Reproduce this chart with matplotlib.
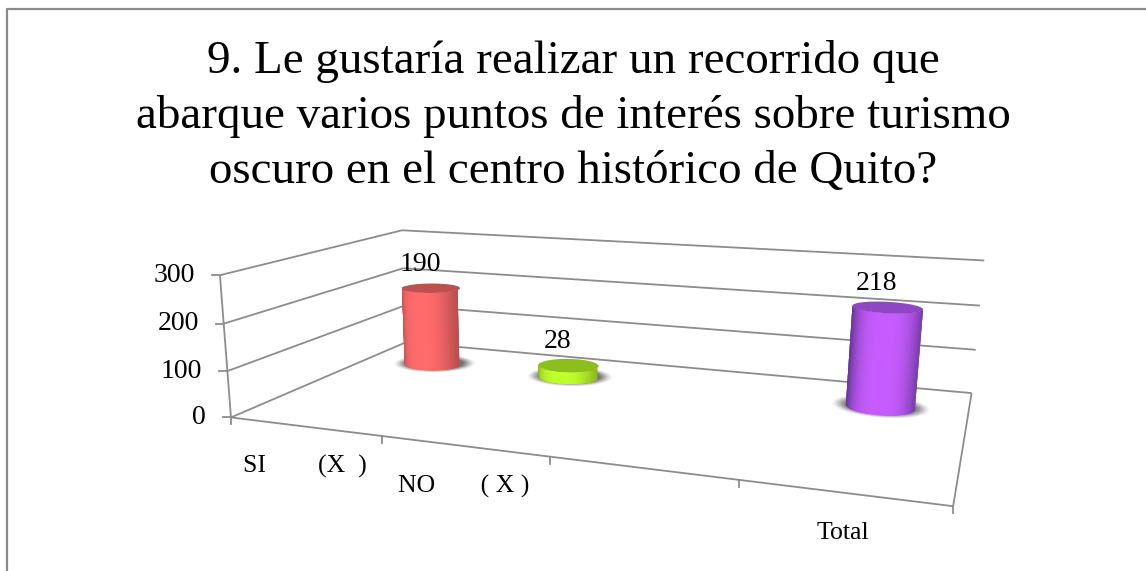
import numpy as np
import matplotlib
matplotlib.use('Agg')
import matplotlib.pyplot as plt

title_lines = ["9. Le gustaría realizar un recorrido que",
               "abarque varios puntos de interés sobre turismo",
               "oscuro en el centro histórico de Quito?"]
categories = ["SI        (X  )", "NO       ( X )", "", "Total"]
values = [190, 28, None, 218]
y_ticks = [0, 100, 200, 300]
y_max = 300

light_colors = ["#FF6B6B", "#BFFF2A", None, "#C65CFF"]
dark_colors = ["#B24A4A", "#86B01E", None, "#6A389A"]
top_colors = ["#C0504D", "#8DBF1C", None, "#8E46C2"]
grid_color = "#8C8C8C"

# box corners on screen: (u along categories, v into depth, w up) -> pixel
box_corners = [((0, 0, 0), (232, 417)), ((1, 0, 0), (953, 507)),
               ((1, 1, 0), (972, 392)), ((0, 1, 0), (405, 343)),
               ((0, 0, 1), (219, 275)), ((1, 1, 1), (984, 261)),
               ((0, 1, 1), (403, 230))]
bar_depth = 0.75
radius_u = 0.05
radius_v = 0.085


def fit_projection(corners):
    rows, rhs = [], []
    for (u, v, w), (x, y) in corners:
        rows.append([u, v, w, 1, 0, 0, 0, 0, -x * u, -x * v, -x * w])
        rhs.append(x)
        rows.append([0, 0, 0, 0, u, v, w, 1, -y * u, -y * v, -y * w])
        rhs.append(y)
    return np.linalg.lstsq(np.array(rows, float), np.array(rhs, float), rcond=None)[0]


params = fit_projection(box_corners)


def project(u, v, w):
    u, v, w = np.asarray(u, float), np.asarray(v, float), np.asarray(w, float)
    a, b, p, c, d, e, q, f, g, h, i = params
    den = g * u + h * v + i * w + 1
    return (a * u + b * v + p * w + c) / den, (d * u + e * v + q * w + f) / den


def mix(c1, c2, t):
    c1 = np.array(matplotlib.colors.to_rgb(c1))
    c2 = np.array(matplotlib.colors.to_rgb(c2))
    return tuple(c1 + (c2 - c1) * t)


plt.rcParams['font.family'] = ['Liberation Serif', 'DejaVu Serif']

fig = plt.figure(figsize=(11.46, 5.71), dpi=100)
ax = fig.add_axes([0, 0, 1, 1])
ax.set_xlim(0, 1146)
ax.set_ylim(571, 0)
ax.axis('off')

# chart border, cut off at the right and bottom of the picture
ax.plot([1146, 6.5, 6.5], [8.5, 8.5, 571], color="#8A8A8A", lw=1.6)

for i, line in enumerate(title_lines):
    ax.text(573, 73 + i * 55, line, ha='center', va='baseline', fontsize=33.8, color='black')


def edge(p0, p1, lw=1.3):
    x, y = project(*np.array([p0, p1]).T)
    ax.plot(x, y, color=grid_color, lw=lw, solid_capstyle='butt', zorder=2)


# gridlines on side and back walls
for tick in y_ticks:
    w = tick / y_max
    edge((0, 0, w), (0, 1, w))
    edge((0, 1, w), (1, 1, w))
    x, y = project(0, 0, w)
    ax.plot([x - 8, x], [y, y], color=grid_color, lw=1.3, zorder=2)
    ax.text(x - 25, y, str(tick), ha='right', va='center', fontsize=20, color='black')
edge((0, 0, 0), (0, 0, 1))
edge((1, 0, 0), (1, 1, 0))
edge((0, 0, 0), (1, 0, 0))

# category ticks and labels along the front edge
n = len(categories)
for i in range(n + 1):
    x, y = project(i / n, 0, 0)
    ax.plot([x, x], [y, y + 7], color=grid_color, lw=1.3, zorder=2)
for i, label in enumerate(categories):
    x, y = project((i + 0.5) / n, 0, 0)
    ax.text(x, y + 40, label, ha='center', va='center', fontsize=18.5, color='black')

# cylinders
theta = np.linspace(0, 2 * np.pi, 90)
for i, val in enumerate(values):
    if val is None:
        continue
    uc = (i + 0.5) / n
    w = val / y_max

    # soft floor shadow
    for scale, alpha in zip(np.linspace(1.42, 1.0, 10), np.linspace(0.04, 0.2, 10)):
        sx, sy = project(uc + scale * radius_u * np.cos(theta),
                         bar_depth + scale * radius_v * np.sin(theta) + 0.01,
                         0)
        ax.fill(sx, sy, color="#404040", alpha=alpha, lw=0, zorder=3)

    # side made of overlapping slivers, shaded across the width
    front = np.linspace(np.pi, 2 * np.pi, 61)
    for k in range(len(front) - 1):
        t0, t1 = front[k], front[min(k + 3, len(front) - 1)]
        us = uc + radius_u * np.cos([t0, t1, t1, t0])
        vs = bar_depth + radius_v * np.sin([t0, t1, t1, t0])
        ws = np.array([0, 0, w, w])
        px, py = project(us, vs, ws)
        s = np.cos((front[k] + front[k + 1]) / 2)
        shade = np.clip(1 - abs(s - 0.05) ** 3, 0, 1)
        ax.fill(px, py, color=mix(dark_colors[i], light_colors[i], shade), lw=0, zorder=4)

    tx, ty = project(uc + radius_u * np.cos(theta), bar_depth + radius_v * np.sin(theta), w)
    ax.fill(tx, ty, color=top_colors[i], lw=0, zorder=5)

    cx, cy = project(uc, bar_depth, w)
    ax.text(cx - 11, cy - 24, str(val), ha='center', va='center', fontsize=20, color='black', zorder=6)

fig.savefig("out.png", dpi=100)
plt.close(fig)
